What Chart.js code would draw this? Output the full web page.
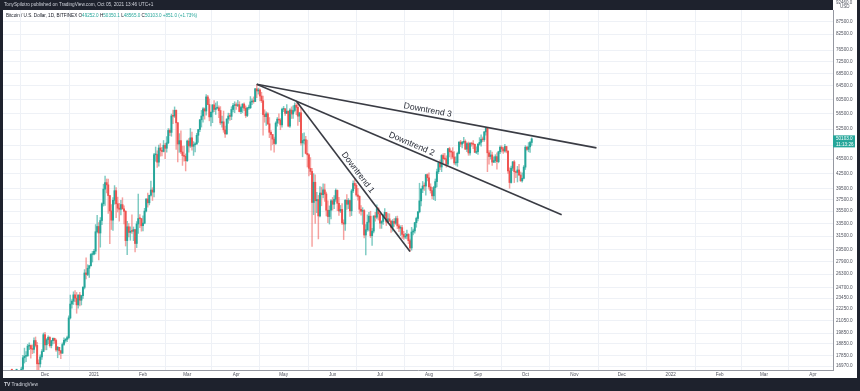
<!DOCTYPE html>
<html><head><meta charset="utf-8">
<script src="https://cdn.jsdelivr.net/npm/chart.js@4.4.0/dist/chart.umd.min.js"></script>
<style>html,body{margin:0;padding:0;background:#1e222d;overflow:hidden}#wrap{position:relative;width:860px;height:391px}</style>
</head><body><div id="wrap"><canvas id="c" width="860" height="391"></canvas></div>
<script>
// Daily BTC/USD candles, x = days counted from 2020-12-01 (first candle 2020-11-10)
const firstDay = -21;
const opens = [
// Nov 2020
15330,15300,15700,16280,16320,16070,15960,16720,17650,17780,17820,18660,18710,18420,18370,19160,18720,17150,17140,17720,18180,
// Dec
19700,18770,19230,19450,18700,19150,19360,19170,18320,18550,18250,18040,18800,19170,19270,19430,21340,22800,23110,23820,23450,22710,23810,23220,23730,24690,26440,26250,27040,27370,28880,
// Jan 2021
28920,29330,32180,33000,31990,33950,36770,39430,40670,40240,38240,35540,34010,37390,39140,36770,36010,35820,36630,35890,35470,30850,32950,32080,32260,32250,32510,30430,33400,34270,34260,
// Feb
33110,33520,35510,37620,36940,38290,39260,38870,46450,46510,44840,47970,47420,47180,48600,47910,49150,52150,51670,55890,55840,57410,54090,48890,49680,47070,46280,46110,
// Mar
45140,49590,48440,50350,48370,48750,48880,50970,52380,54880,55860,57800,57220,61190,59000,55630,56900,58910,57650,58030,58100,57350,54080,54340,52300,51290,55070,55860,55780,57630,58750,
// Apr
58800,58740,58970,57060,58200,59130,57990,56000,58080,58140,59770,60000,59860,63580,62960,63250,61450,60090,56250,55700,56470,53830,51700,51150,50050,49000,54020,55030,54820,53560,
// May
57700,57800,56580,57170,53240,57480,56410,57350,58800,58240,55840,56700,49150,49700,49900,46760,46430,43550,42900,37000,40740,37300,37530,34700,38700,38400,39290,38530,35660,34600,35650,
// Jun
37300,36690,37570,39190,36850,35520,35800,33580,33400,37390,36690,37340,35550,39100,40520,40140,38350,38090,35820,35480,35600,31680,32500,33680,34660,31590,32280,34700,34490,35910,
// Jul
35040,33520,33800,34690,35290,33690,34220,33860,32870,33810,33510,34260,33090,32730,32820,31780,31390,31530,31780,30840,29790,32140,32310,33600,34290,35400,37280,39460,40020,40010,42240,
// Aug
41630,39850,39150,38190,39720,40870,42840,44620,43820,46290,45590,45540,44400,47820,47100,47050,45960,44690,44740,46760,49340,48870,49290,49510,47710,48990,46850,49070,48900,48810,46990,
// Sep
47160,48850,49280,49980,49910,51790,52700,46880,46060,46400,44850,45170,46030,44960,47110,48140,47760,47300,48310,47260,43010,40690,43570,44900,42840,42700,43200,42170,41030,41520,
// Oct
43790,48140,47660,48230,49252
];
const highs = [
15480,15960,16340,16480,16330,16140,16880,17860,18480,18180,18820,18960,18780,18770,19420,19490,19000,17480,17900,18350,19860,
19920,19340,19600,19530,19180,19420,19390,19290,18640,18560,18290,18950,19410,19350,19570,21560,23800,23280,24170,24300,24100,23800,24100,23780,24790,26870,28420,27500,27410,28990,29300,
29600,33300,34780,33600,34440,36940,40370,41950,41380,41350,38260,36630,37850,40100,39700,37950,36850,37400,37850,36420,35600,33830,33460,32940,34880,32920,32560,33780,38530,34930,34280,
34720,35980,37660,38700,38310,40960,39700,46750,48200,47310,48630,48990,48150,49710,49020,50650,52620,52550,56370,57500,58350,57530,54220,51370,52040,48400,48400,46640,
49790,50200,52640,51770,49450,49200,51450,52400,54900,57380,58150,58060,61850,61680,60600,56940,58990,60130,59450,59880,58640,58430,55830,57200,53240,55100,56640,56560,58400,59370,59800,
59490,60200,59800,58500,59250,59480,58650,58150,58880,61300,60650,61200,63780,64900,63800,63560,62570,61440,57550,57000,56780,55460,52130,51200,50540,54360,55460,56430,55200,58000,
58480,57950,58980,57200,57900,58360,58650,59500,59300,59600,56880,58000,51400,51560,50700,49800,46640,45830,43550,42450,42200,38830,38270,39920,39800,40420,40400,38880,37300,36400,37500,
37900,38220,39480,39290,37920,36480,36800,34070,37530,38400,37690,37440,39380,41000,41330,40500,39560,38200,36460,36100,35750,33300,34880,35290,35490,32700,34700,35300,36600,36100,
35040,33940,34950,35950,35290,35080,35060,33920,34100,34260,34590,34680,33340,33120,33180,32250,31950,32440,31900,31060,32860,32600,33650,34500,35400,40550,39540,40900,40640,42320,42410,
42600,40450,39780,39970,41380,43390,44700,45310,46460,46700,46740,46220,47880,48150,47400,48050,47160,46000,47050,49380,49760,49500,50500,49870,49230,49360,49200,49310,49670,48900,48250,
49000,50400,51050,50560,51900,52780,52920,47380,47400,47040,45990,46460,46880,47250,48480,48500,48150,48820,48370,47340,43640,44000,44980,45200,42970,43940,44350,42790,42600,44130,
48500,48330,49230,49530,50350.1
];
const lows = [
14830,15280,15430,15960,15710,15790,15870,16560,17210,17330,17760,18350,17610,18000,18060,18580,16190,16440,16880,17510,18180,
18320,18330,18870,18570,18500,18860,18900,18200,17650,17910,17570,18020,18710,19000,19050,19300,21230,22350,22750,23060,21820,22350,22600,22700,23430,24500,25700,26100,25880,27320,27850,
28800,28950,32000,28130,29900,33290,36370,36500,38720,35110,30420,32530,32380,36700,34410,35360,33850,34880,35850,33400,30070,28850,31390,30900,31910,30840,29240,29840,31920,32830,32270,
32300,33420,35360,36160,36570,38150,37350,37990,45020,43730,43990,46130,46200,47070,45600,47030,48950,50880,50730,53860,55480,47620,44890,47000,46670,44140,45050,43000,
45000,47050,48100,47500,46300,47070,48880,49270,51850,53000,54270,55030,56080,59000,54600,53270,54120,57020,56280,57800,55450,53650,53000,51700,50430,51230,53950,54690,54900,57000,56770,
57650,58430,56950,56480,56800,57330,55470,55700,57660,57850,59000,59370,59800,61000,62020,60000,59580,51000,54220,53400,53620,50400,47500,48750,47000,48800,53220,53900,52330,53000,
57050,56040,56480,53050,52900,55200,55250,56950,56240,53400,54370,48600,46000,48850,46650,43820,42000,42250,30000,34900,33500,35250,31100,34530,36420,37800,37190,34700,33600,33380,34200,
35670,35920,37170,35570,34800,35260,33330,31000,32400,35800,35930,34600,34760,38760,39500,38120,37400,35130,34820,33350,31250,28800,32260,32300,31300,30150,32000,33860,34230,34020,
32710,32700,33330,34400,33150,33530,33770,32080,32260,33000,33310,32660,32200,31600,31130,31020,31160,31100,30400,29300,29480,31710,31950,32880,33880,35210,36400,38770,39200,38310,41000,
39420,38690,37640,37510,37330,39850,42450,43260,42850,44680,45340,43770,44240,45960,45520,45620,44380,44200,43950,46630,48280,48000,49030,47600,47140,46320,46370,48370,47800,46900,46700,
46510,48630,48400,49450,49500,50970,42850,44410,45500,44130,44740,44750,43370,44700,46700,47050,46750,47050,46870,42500,39600,40570,43080,40680,41650,40800,42100,40900,40760,41410,
43300,47400,47100,46950,48565
];
const closes = [
15300,15700,16280,16320,16070,15960,16720,17650,17780,17820,18660,18710,18420,18370,19160,18720,17150,17140,17720,18180,19700,
18770,19230,19450,18700,19150,19360,19170,18320,18550,18250,18040,18800,19170,19270,19430,21340,22800,23110,23820,23450,22710,23810,23220,23730,24690,26440,26250,27040,27370,28880,28920,
29330,32180,33000,31990,33950,36770,39430,40670,40240,38240,35540,34010,37390,39140,36770,36010,35820,36630,35890,35470,30850,32950,32080,32260,32250,32510,30430,33400,34270,34260,33110,
33520,35510,37620,36940,38290,39260,38870,46450,46510,44840,47970,47420,47180,48600,47910,49150,52150,51670,55890,55840,57410,54090,48890,49680,47070,46280,46110,45140,
49590,48440,50350,48370,48750,48880,50970,52380,54880,55860,57800,57220,61190,59000,55630,56900,58910,57650,58030,58100,57350,54080,54340,52300,51290,55070,55860,55780,57630,58750,58800,
58740,58970,57060,58200,59130,57990,56000,58080,58140,59770,60000,59860,63580,62960,63250,61450,60090,56250,55700,56470,53830,51700,51150,50050,49000,54020,55030,54820,53560,57700,
57800,56580,57170,53240,57480,56410,57350,58800,58240,55840,56700,49150,49700,49900,46760,46430,43550,42900,37000,40740,37300,37530,34700,38700,38400,39290,38530,35660,34600,35650,37300,
36690,37570,39190,36850,35520,35800,33580,33400,37390,36690,37340,35550,39100,40520,40140,38350,38090,35820,35480,35600,31680,32500,33680,34660,31590,32280,34700,34490,35910,35040,
33520,33800,34690,35290,33690,34220,33860,32870,33810,33510,34260,33090,32730,32820,31780,31390,31530,31780,30840,29790,32140,32310,33600,34290,35400,37280,39460,40020,40010,42240,41630,
39850,39150,38190,39720,40870,42840,44620,43820,46290,45590,45540,44400,47820,47100,47050,45960,44690,44740,46760,49340,48870,49290,49510,47710,48990,46850,49070,48900,48810,46990,47160,
48850,49280,49980,49910,51790,52700,46880,46060,46400,44850,45170,46030,44960,47110,48140,47760,47300,48310,47260,43010,40690,43570,44900,42840,42700,43200,42170,41030,41520,43790,
48140,47660,48230,49250,50103
];

// Trendlines: [startDay, startPrice, endDay, endPrice]
const trendNames = ['Downtrend 1', 'Downtrend 2', 'Downtrend 3'];
const trendStart = [[159, 60000], [134, 65000], [134, 65000]];
const trendEnd   = [[231, 29300], [327, 34880], [349, 48000]];

// Axis ticks
const monthTickDays = [0, 31, 62, 90, 121, 151, 182, 212, 243, 274, 304, 335, 365, 396, 427, 455, 486];
const monthTickLabels = ['Dec', '2021', 'Feb', 'Mar', 'Apr', 'May', 'Jun', 'Jul', 'Aug', 'Sep', 'Oct', 'Nov', 'Dec', '2022', 'Feb', 'Mar', 'Apr'];
const priceTicks = [87500, 82500, 76500, 72500, 68500, 64500, 60500, 56500, 52500, 48500, 45500, 42500, 39500, 37500, 35500, 33500, 31500, 29500, 27900, 26300, 24700, 23450, 22250, 21050, 19850, 18850, 17850, 16970];

const headerText = 'TonySpilotro published on TradingView.com, Oct 05, 2021 13:46 UTC+1';
const symbolText = 'Bitcoin / U.S. Dollar, 1D, BITFINEX';
const ohlcLetters = ['O', 'H', 'L', 'C'];
const changeText = '+851.0 (+1.73%)';
const countdownText = '11:13:26';

const GREEN = '#26a69a', RED = '#ef5350';
const FONT = '"Liberation Sans", Arial, sans-serif';
const n = opens.length;
const isUp = i => closes[i] >= opens[i];

const wickData = lows.map((l, i) => ({x: firstDay + i, y: [l, highs[i]]}));
const bodyData = opens.map((o, i) => ({x: firstDay + i, y: [o, closes[i]]}));

const trendSets = trendNames.map((name, k) => ({
  type: 'line', label: name,
  data: [{x: trendStart[k][0], y: trendStart[k][1]}, {x: trendEnd[k][0], y: trendEnd[k][1]}],
  borderColor: '#3a3c44', borderWidth: 1.6, pointRadius: 0, fill: false, order: 0
}));

const overlay = {
  id: 'overlay',
  beforeDraw(chart) {
    const c = chart.ctx;
    c.save();
    c.fillStyle = '#1e222d'; c.fillRect(0, 0, 860, 391);
    c.fillStyle = '#ffffff'; c.fillRect(3, 10, 854, 368); c.fillRect(833, 0, 24, 10);
    c.restore();
  },
  afterDraw(chart) {
    const c = chart.ctx;
    c.save();
    // header
    c.font = '4.7px ' + FONT; c.textBaseline = 'middle'; c.textAlign = 'left';
    c.fillStyle = '#d1d4dc'; c.fillText(headerText, 4, 5);
    // legend
    let x = 6; const ly = 15.5;
    c.font = '4.6px ' + FONT;
    c.fillStyle = '#131722'; c.fillText(symbolText, x, ly); x += c.measureText(symbolText + ' ').width;
    const vals = [opens[n-1], highs[n-1], lows[n-1], closes[n-1]];
    ohlcLetters.forEach((L, k) => {
      c.fillStyle = '#131722'; c.fillText(L, x, ly); x += c.measureText(L).width;
      const s = vals[k].toFixed(1);
      c.fillStyle = GREEN; c.fillText(s, x, ly); x += c.measureText(s + ' ').width;
    });
    c.fillStyle = GREEN; c.fillText(changeText, x, ly);
    // top right currency
    c.fillStyle = '#50535e'; c.font = '4.5px ' + FONT;
    c.fillText('92460.0', 836, 2.5); c.fillText('USD', 840, 7);
    // trendline labels
    c.font = '8.6px ' + FONT; c.fillStyle = '#2a2e39'; c.textAlign = 'center'; c.textBaseline = 'middle';
    trendNames.forEach((name, k) => {
      const pts = chart.getDatasetMeta(2 + k).data;
      const x1 = pts[0].x, y1 = pts[0].y, x2 = pts[1].x, y2 = pts[1].y;
      const a = Math.atan2(y2 - y1, x2 - x1);
      const mx = (x1 + x2) / 2 + Math.sin(a) * 6, my = (y1 + y2) / 2 - Math.cos(a) * 6;
      c.save(); c.translate(mx, my); c.rotate(a); c.fillText(name, 0, 0); c.restore();
    });
    // last price label
    const py = chart.scales.y.getPixelForValue(closes[n-1]);
    c.fillStyle = GREEN; c.fillRect(833, py - 3.5, 22, 12);
    c.fillStyle = '#ffffff'; c.font = '4.6px ' + FONT; c.textAlign = 'left';
    c.fillText(closes[n-1].toFixed(1), 836, py + 0.3);
    c.fillText(countdownText, 836, py + 5.6);
    // footer
    c.fillStyle = '#d1d4dc'; c.font = 'bold 5px ' + FONT; c.fillText('TV', 4, 384.5);
    c.font = '4.8px ' + FONT; c.fillText('TradingView', 11.5, 384.5);
    c.restore();
  }
};

new Chart(document.getElementById('c'), {
  type: 'bar',
  data: {
    datasets: [
      {type: 'bar', data: wickData, barThickness: 0.8, grouped: false, order: 2,
       backgroundColor: ctx => isUp(ctx.dataIndex) ? 'rgba(38,166,154,0.6)' : 'rgba(239,83,80,0.55)'},
      {type: 'bar', data: bodyData, barThickness: 1.3, grouped: false, order: 1, minBarLength: 0.8,
       backgroundColor: ctx => isUp(ctx.dataIndex) ? GREEN : RED},
      ...trendSets
    ]
  },
  options: {
    responsive: false, animation: false, devicePixelRatio: 1,
    layout: {padding: {left: 3, top: 10, right: 3, bottom: 13}},
    plugins: {legend: {display: false}, tooltip: {enabled: false}, title: {display: false}},
    scales: {
      x: {
        type: 'linear', min: -26.6, max: 498.7, offset: false,
        afterBuildTicks: s => { s.ticks = monthTickDays.map(v => ({value: v})); },
        afterFit: s => { s.height = 8; },
        grid: {color: '#eef1f6', lineWidth: 1, drawTicks: false},
        border: {display: true, color: '#9598a1', width: 1},
        ticks: {autoSkip: false, maxRotation: 0, minRotation: 0, padding: 1.5, color: '#50535e',
          font: {size: 4.6, family: FONT},
          callback: v => { const k = monthTickDays.indexOf(v); return k >= 0 ? monthTickLabels[k] : ''; }}
      },
      y: {
        type: 'logarithmic', position: 'right', min: 16650, max: 92600,
        afterBuildTicks: s => { s.ticks = priceTicks.map(v => ({value: v})); },
        afterFit: s => { s.width = 24; },
        grid: {color: '#eef1f6', lineWidth: 1, drawTicks: false},
        border: {display: true, color: '#9598a1', width: 1},
        ticks: {padding: 3, color: '#50535e', font: {size: 4.6, family: FONT},
          callback: v => Number(v).toFixed(1)}
      }
    }
  },
  plugins: [overlay]
});
</script></body></html>
